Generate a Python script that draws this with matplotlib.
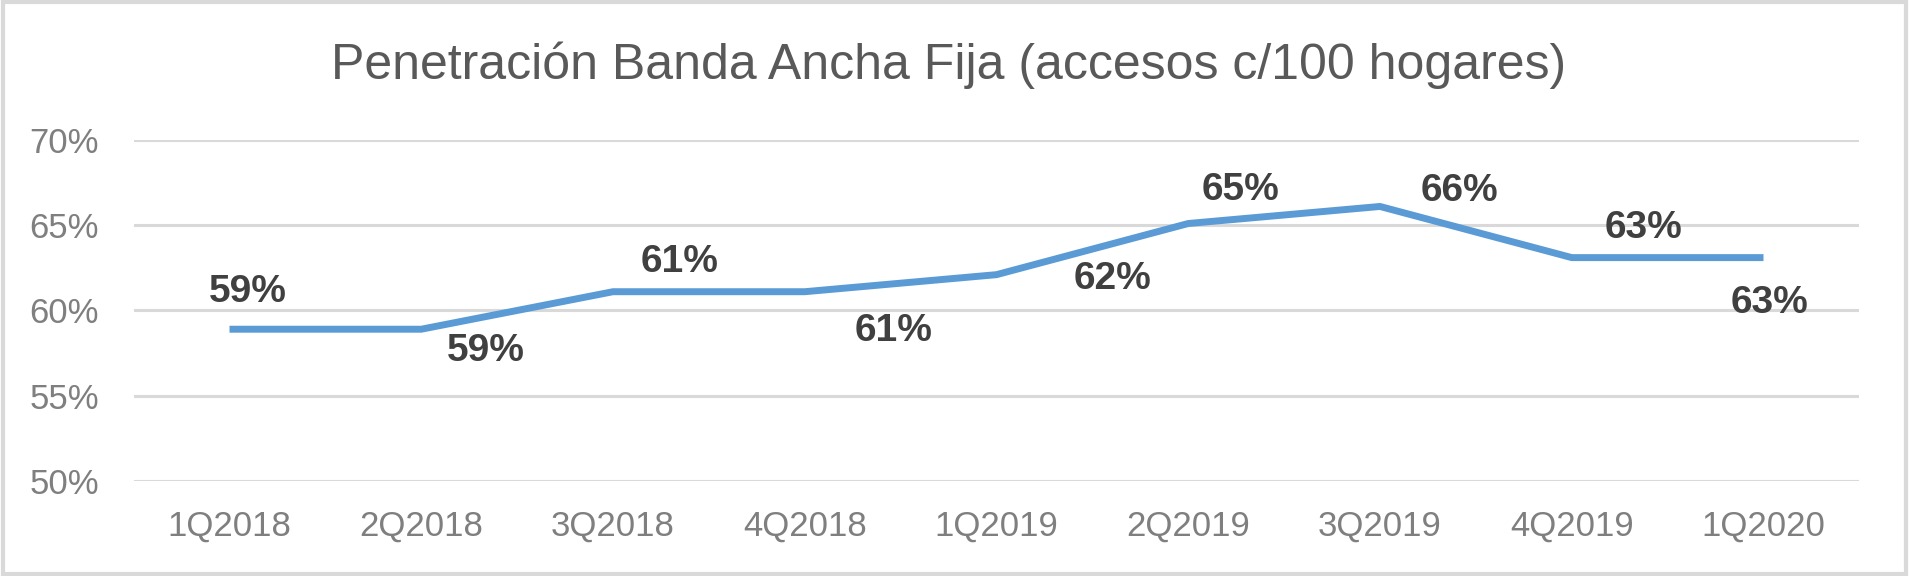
import matplotlib
matplotlib.use("Agg")
import matplotlib.pyplot as plt
from matplotlib.patches import Rectangle

# datos
trimestres = ["1Q2018", "2Q2018", "3Q2018", "4Q2018", "1Q2019",
              "2Q2019", "3Q2019", "4Q2019", "1Q2020"]
penetracion = [58.9, 58.9, 61.1, 61.1, 62.1, 65.1, 66.1, 63.1, 63.1]
etiquetas = ["59%", "59%", "61%", "61%", "62%", "65%", "66%", "63%", "63%"]
y_ticks = [50, 55, 60, 65, 70]

# desplazamiento de las etiquetas (pixeles)
offsets = [(18, 37), (65, -22), (67, 30), (89, -39), (116, -4),
           (52, 34), (79, 15), (72, 30), (6, -45)]

plt.rcParams['font.family'] = ['Liberation Sans', 'DejaVu Sans']

fig = plt.figure(figsize=(19.09, 5.76), dpi=100)
ax = fig.add_axes([0.070, 0.165, 0.904, 0.592])

x = list(range(len(trimestres)))
ax.plot(x, penetracion, color='#5B9BD5', linewidth=5, solid_capstyle='butt', zorder=3)

for xi, yi, lab, off in zip(x, penetracion, etiquetas, offsets):
    ax.annotate(lab, (xi, yi), xytext=off, textcoords='offset pixels',
                ha='center', va='center', fontsize=28, fontweight='bold',
                color='#404040', zorder=4)

ax.set_xlim(-0.5, len(trimestres) - 0.5)
ax.set_ylim(50, 70)
ax.set_yticks(y_ticks)
ax.set_yticklabels([f"{v}%" for v in y_ticks])
ax.set_xticks(x)
ax.set_xticklabels(trimestres)
ax.tick_params(axis='both', length=0, labelsize=25, labelcolor='#7F7F7F')
ax.tick_params(axis='y', pad=25)
ax.tick_params(axis='x', pad=21)

ax.grid(axis='y', color='#D9D9D9', linewidth=2.2)
ax.set_axisbelow(True)
for s in ax.spines.values():
    s.set_visible(False)

fig.text(0.497, 0.887, "Penetración Banda Ancha Fija (accesos c/100 hogares)",
         ha='center', va='center', fontsize=36, color='#595959')

# marco exterior
fig.patches.append(Rectangle((0.0015, 0.004), 0.997, 0.992, transform=fig.transFigure,
                             fill=False, edgecolor='#D9D9D9', linewidth=3))

fig.savefig("out.png", dpi=100)
